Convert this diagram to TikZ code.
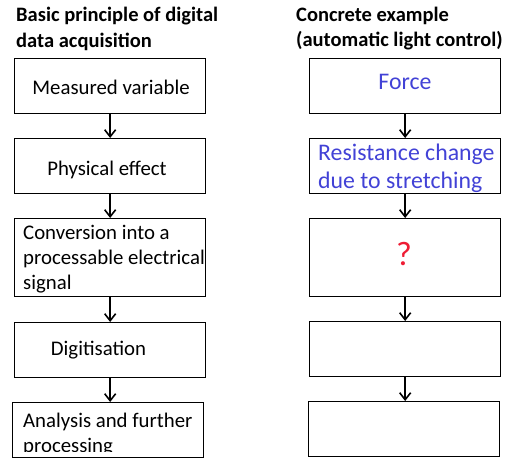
\documentclass[tikz,border=0pt]{standalone}
\usepackage{fontspec}
\setmainfont{Carlito}
\usetikzlibrary{arrows.meta}
\definecolor{txtblue}{RGB}{66,66,214}
\definecolor{qred}{RGB}{238,28,52}
\tikzset{
  box/.style={draw, line width=1.3pt, minimum width=191pt, minimum height=55pt, inner sep=0pt, anchor=north west},
  tallbox/.style={box, minimum height=78pt},
  lbl/.style={inner sep=0pt, font=\fontsize{20.8}{25}\selectfont},
  blbl/.style={lbl, text=txtblue, font=\fontsize{23.8}{28}\selectfont},
  ttl/.style={inner sep=0pt, font=\fontsize{20.5}{26}\selectfont\bfseries, anchor=base west},
  flow/.style={line width=1.8pt, -{Straight Barb[length=7pt,width=11pt,line width=1.6pt]}}
}
\begin{document}
\begin{tikzpicture}[x=1pt,y=-1pt]
\useasboundingbox (0,0) rectangle (513,469);
% titles
\node[ttl] (tl1) at (16,21.5) {Basic principle of digital};
\node[ttl] (tl2) at (16,47.5) {data acquisition};
\node[ttl] (tr1) at (296,21) {Concrete example};
\node[ttl] (tr2) at (296,46.5) {(automatic light control)};
% left boxes
\node[box] (L1) at (14,58) {};
\node[box] (L2) at (14,138) {};
\node[tallbox] (L3) at (14,218) {};
\node[box] (L4) at (14,322) {};
\node[box] (L5) at (12,402) {};
% right boxes
\node[box] (R1) at (309,58) {};
\node[box] (R2) at (309,138) {};
\node[tallbox] (R3) at (309,218) {};
\node[box] (R4) at (309,321) {};
\node[box] (R5) at (308,401) {};
% left texts
\node[lbl, anchor=base] (t1) at (111,94.3) {Measured variable};
\node[lbl, anchor=base] (t2) at (107,175) {Physical effect};
\node[lbl, anchor=base west] (t3a) at (23,239.5) {Conversion into a};
\node[lbl, anchor=base west] (t3b) at (23,264.5) {processable electrical};
\node[lbl, anchor=base west] (t3c) at (23,289.5) {signal};
\node[lbl, anchor=base] (t4) at (98.5,355) {Digitisation};
\node[lbl, anchor=base west] (t5a) at (23,427.3) {Analysis and further};
\begin{scope}
\clip (0,430) rectangle (260,451);
\node[lbl, anchor=base west] (t5b) at (23,452.5) {processing};
\end{scope}
% right texts
\node[blbl, anchor=base] (s1) at (405,89) {Force};
\node[blbl, anchor=base west] (s2a) at (318,160) {Resistance change};
\node[blbl, anchor=base west] (s2b) at (318,188) {due to stretching};
\node[inner sep=0pt, text=qred, font=\fontsize{34}{34}\selectfont, anchor=base] (q) at (404,265.5) {?};
% arrows
\draw[flow] (L1.south) -- (L2.north);
\draw[flow] (L2.south) -- (L3.north);
\draw[flow] (L3.south) -- (L4.north);
\draw[flow] (L4.south) -- (L4.south |- L5.north);
\draw[flow] (R1.south) -- (R2.north);
\draw[flow] (R2.south) -- (R3.north);
\draw[flow] (R3.south) -- (R3.south |- R4.north);
\draw[flow] (R4.south) -- (R4.south |- R5.north);
\end{tikzpicture}
\end{document}
